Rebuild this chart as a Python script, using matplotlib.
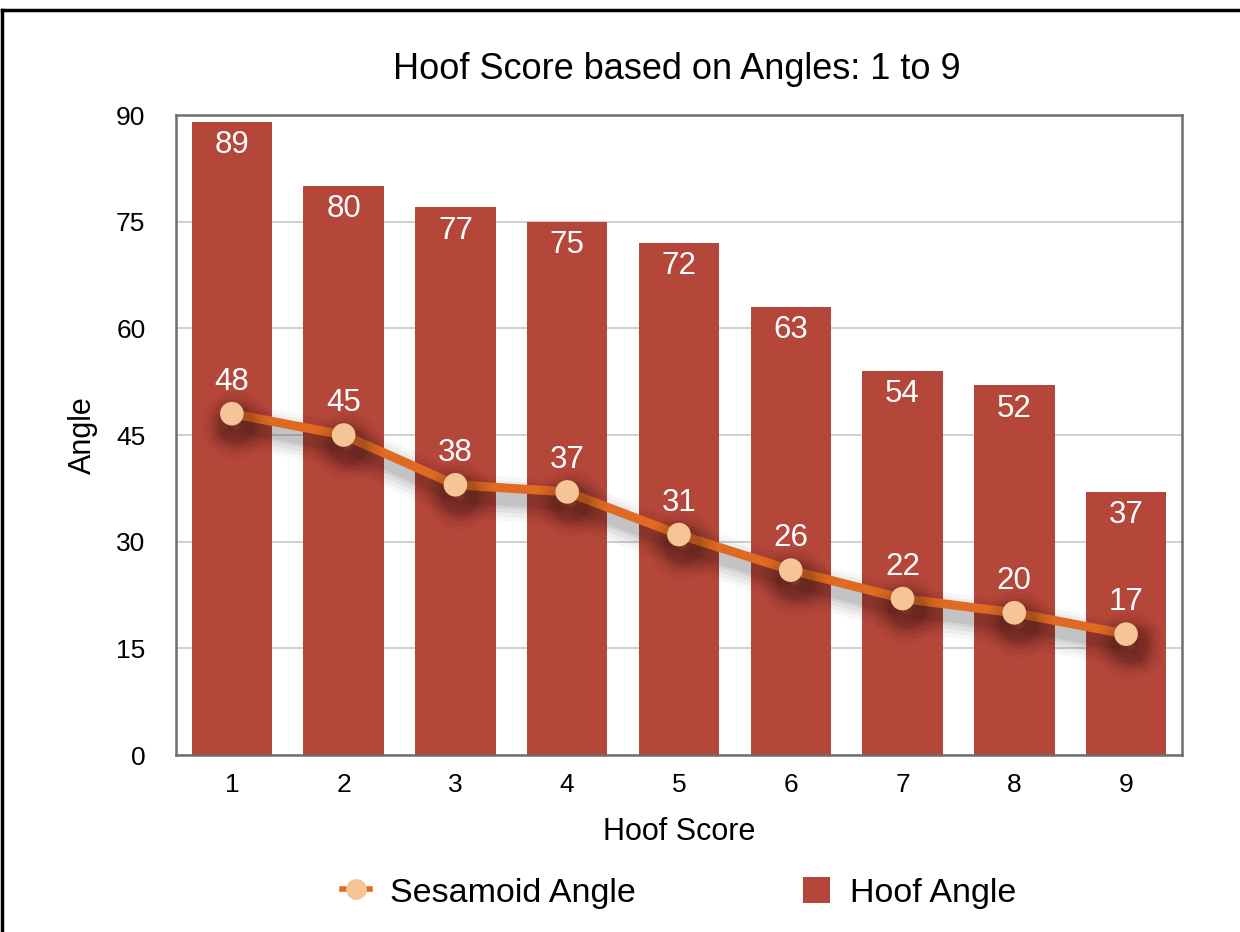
import matplotlib
matplotlib.use("Agg")
import matplotlib.pyplot as plt
import matplotlib.patheffects as pe
from matplotlib.lines import Line2D
from matplotlib.patches import Patch

plt.rcParams['font.family'] = ['Liberation Sans', 'DejaVu Sans']

hoof_scores = [1, 2, 3, 4, 5, 6, 7, 8, 9]
hoof_angle = [89, 80, 77, 75, 72, 63, 54, 52, 37]
sesamoid_angle = [48, 45, 38, 37, 31, 26, 22, 20, 17]
y_ticks = [0, 15, 30, 45, 60, 75, 90]

BAR_COLOR = '#B5463A'
LINE_COLOR = '#E06A22'
MARKER_COLOR = '#F6C597'

fig = plt.figure(figsize=(12.4, 9.32), dpi=100)
ax = fig.add_axes([0.1419, 0.1899, 0.8113, 0.6867])

ax.bar(hoof_scores, hoof_angle, width=0.72, color=BAR_COLOR, zorder=2)

# soft drop shadow under the sesamoid line
shadow = []
for lw, a in [(32, 0.03), (26, 0.04), (20, 0.05), (14, 0.06), (10, 0.07)]:
    shadow.append(pe.SimpleLineShadow(offset=(3, -8), shadow_color='black',
                                      alpha=a, linewidth=lw))
shadow.append(pe.Normal())

ax.plot(hoof_scores, sesamoid_angle, color=LINE_COLOR, linewidth=6.5,
        marker='o', markersize=17, markerfacecolor=MARKER_COLOR,
        markeredgewidth=0, zorder=4, path_effects=shadow)

for x, v in zip(hoof_scores, hoof_angle):
    ax.annotate(str(v), (x, v), xytext=(0, -6), textcoords='offset points',
                ha='center', va='top', color='white', fontsize=22.5, zorder=5)
for x, v in zip(hoof_scores, sesamoid_angle):
    ax.annotate(str(v), (x, v), xytext=(0, 12), textcoords='offset points',
                ha='center', va='bottom', color='white', fontsize=22.5,
                zorder=5)

ax.set_xlim(0.5, 9.5)
ax.set_ylim(0, 90)
ax.set_xticks(hoof_scores)
ax.set_yticks(y_ticks)
ax.tick_params(length=0, labelsize=19)
ax.tick_params(axis='x', pad=13)
ax.tick_params(axis='y', pad=22)
ax.yaxis.grid(True, color='#C8C8C8', linewidth=1.2, zorder=0)
ax.set_axisbelow(True)
for s in ax.spines.values():
    s.set_color('#6E6E6E')
    s.set_linewidth(1.8)
    s.set_zorder(6)

ax.set_xlabel('Hoof Score', fontsize=22)
ax.xaxis.set_label_coords(0.5, -0.097)
ax.set_ylabel('Angle', fontsize=22)
ax.yaxis.set_label_coords(-0.078, 0.5)
fig.text(0.546, 0.925, 'Hoof Score based on Angles: 1 to 9', ha='center',
         va='center', fontsize=26)

handles = [
    Line2D([], [], color=LINE_COLOR, linewidth=4, marker='o', markersize=15,
           markerfacecolor=MARKER_COLOR, markeredgewidth=0),
    Patch(facecolor=BAR_COLOR),
]
fig.legend(handles, ['Sesamoid Angle', 'Hoof Angle'], loc='center',
           bbox_to_anchor=(0.548, 0.042), ncol=2, frameon=False, fontsize=24.5,
           handlelength=0.8, handleheight=0.8, columnspacing=4.9,
           handletextpad=0.6, borderpad=0.0)

# frame edges along the top and left of the figure
fig.add_artist(Line2D([0.002, 1.0], [0.989, 0.989], color='black',
                      linewidth=2.5, transform=fig.transFigure))
fig.add_artist(Line2D([0.002, 0.002], [0.0, 0.989], color='black',
                      linewidth=2.5, transform=fig.transFigure))

fig.savefig('out.png', dpi=100, facecolor='white')
